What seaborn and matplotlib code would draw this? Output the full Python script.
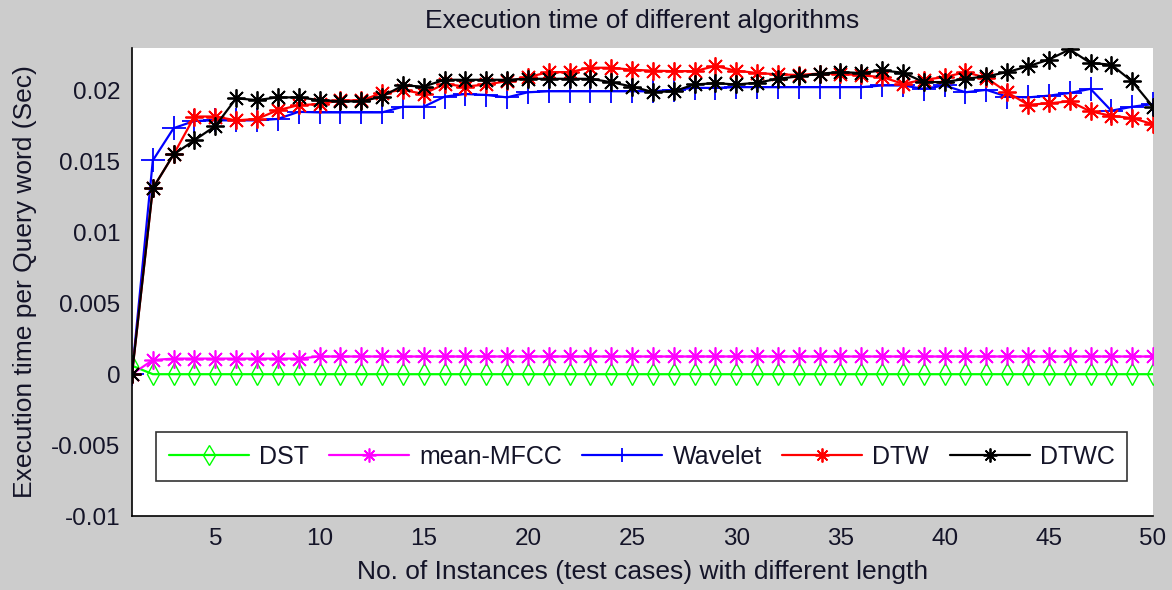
import numpy as np
import pandas as pd
import matplotlib
matplotlib.use("Agg")
import matplotlib.pyplot as plt
import seaborn as sns

instances = list(range(1, 51))

dst = [0.0006] + [0.0] * 49
mean_mfcc = [0.0, 0.0010, 0.0011, 0.0011, 0.0011, 0.0011, 0.0011, 0.0011, 0.0011] + [0.00125] * 41
wavelet = [0.0, 0.01507, 0.01735, 0.01786, 0.0179, 0.0179, 0.0179, 0.0180, 0.0185, 0.01846,
           0.01846, 0.01846, 0.01846, 0.01886, 0.01886, 0.01957, 0.01976, 0.01969, 0.01952, 0.01988,
           0.01995, 0.01995, 0.01995, 0.01995, 0.01995, 0.01995, 0.02005, 0.02019, 0.02019, 0.02024,
           0.02024, 0.02024, 0.02024, 0.02024, 0.02024, 0.02024, 0.02036, 0.02036, 0.02012, 0.02036,
           0.01988, 0.02005, 0.01957, 0.01952, 0.01964, 0.01983, 0.02012, 0.01858, 0.01886, 0.01905]
dtw = [0.0, 0.0131, 0.0155, 0.01817, 0.01817, 0.0179, 0.0180, 0.01862, 0.01897, 0.01905,
       0.0193, 0.0193, 0.01983, 0.02005, 0.01976, 0.02047, 0.02028, 0.02043, 0.02066, 0.02095,
       0.0213, 0.0213, 0.02161, 0.02161, 0.02147, 0.0214, 0.02137, 0.02137, 0.02173, 0.0214,
       0.02124, 0.02114, 0.0211, 0.0212, 0.02119, 0.02107, 0.02095, 0.02048, 0.02076, 0.02095,
       0.0213, 0.0209, 0.01988, 0.0190, 0.0191, 0.01924, 0.01853, 0.01822, 0.01806, 0.01763]
dtwc = [0.0, 0.0131, 0.0155, 0.0165, 0.0175, 0.01945, 0.01933, 0.01952, 0.01952, 0.01933,
        0.01924, 0.01924, 0.01957, 0.02036, 0.02028, 0.02076, 0.02076, 0.02076, 0.02076, 0.02083,
        0.02083, 0.02083, 0.02083, 0.02059, 0.02028, 0.0199, 0.01995, 0.02043, 0.02052, 0.02043,
        0.02055, 0.02083, 0.0210, 0.02119, 0.0213, 0.02124, 0.02142, 0.02126, 0.0206, 0.0206,
        0.02083, 0.0210, 0.0213, 0.02171, 0.02218, 0.0229, 0.02194, 0.02183, 0.02064, 0.01886]

series_names = ["DST", "mean-MFCC", "Wavelet", "DTW", "DTWC"]
series_values = [dst, mean_mfcc, wavelet, dtw, dtwc]
series_colors = ["#00ff00", "#ff00ff", "#0000ff", "#ff0000", "#000000"]

x_ticks = [5, 10, 15, 20, 25, 30, 35, 40, 45, 50]
y_ticks = [-0.01, -0.005, 0, 0.005, 0.01, 0.015, 0.02]
y_tick_labels = ["-0.01", "-0.005", "0", "0.005", "0.01", "0.015", "0.02"]

title = "Execution time of different algorithms"
x_label = "No. of Instances (test cases) with different length"
y_label = "Execution time per Query word (Sec)"

sns.set_theme(style="white")
plt.rcParams["font.family"] = ["Liberation Sans", "DejaVu Sans"]

text_color = "#141428"

fig = plt.figure(figsize=(11.72, 5.9), dpi=100, facecolor="#cccccc")
ax = fig.add_axes([0.1126, 0.1254, 0.8712, 0.7932])
ax.set_facecolor("white")

asterisk = (8, 2, 0)
marker_styles = {
    "DST": dict(marker="d", markersize=11, markerfacecolor="none", markeredgewidth=1.0),
    "mean-MFCC": dict(marker=asterisk, markersize=13, markeredgewidth=1.2),
    "Wavelet": dict(marker="+", markersize=17, markeredgewidth=1.3),
    "DTW": dict(marker=asterisk, markersize=13, markeredgewidth=1.3),
    "DTWC": dict(marker=asterisk, markersize=13, markeredgewidth=1.3),
}

for name, vals, col in zip(series_names, series_values, series_colors):
    df = pd.DataFrame({"x": instances, "y": vals})
    sns.lineplot(data=df, x="x", y="y", ax=ax, color=col, linewidth=1.6,
                 label=name, markeredgecolor=col, **marker_styles[name])

ax.set_xlim(1, 50)
ax.set_ylim(-0.01, 0.023)
ax.set_xticks(x_ticks)
ax.set_yticks(y_ticks)
ax.set_yticklabels(y_tick_labels)
ax.tick_params(axis="both", direction="in", length=8, width=1, colors="black",
               labelsize=17.5, labelcolor=text_color)
ax.tick_params(axis="y", pad=8.5)
ax.tick_params(axis="x", pad=8.5)
for s in ["top", "right"]:
    ax.spines[s].set_visible(False)
for s in ["left", "bottom"]:
    ax.spines[s].set_color("black")
    ax.spines[s].set_linewidth(1.2)

ax.set_title(title, fontsize=19, color=text_color, pad=14.5)
ax.set_xlabel(x_label, fontsize=19, color=text_color, labelpad=7.5)
ax.set_ylabel(y_label, fontsize=19, color=text_color, labelpad=10)

leg = ax.legend(loc="center", bbox_to_anchor=(0.499, 0.127), ncol=5,
                fontsize=18, frameon=True, fancybox=False, handlelength=3.2,
                columnspacing=0.82, handletextpad=0.4, borderpad=0.5)
leg.get_frame().set_edgecolor("black")
leg.get_frame().set_linewidth(1.2)
for t in leg.get_texts():
    t.set_color(text_color)
for h in leg.legend_handles:
    h.set_markersize(10)

fig.savefig("out.png", dpi=100, facecolor=fig.get_facecolor())
